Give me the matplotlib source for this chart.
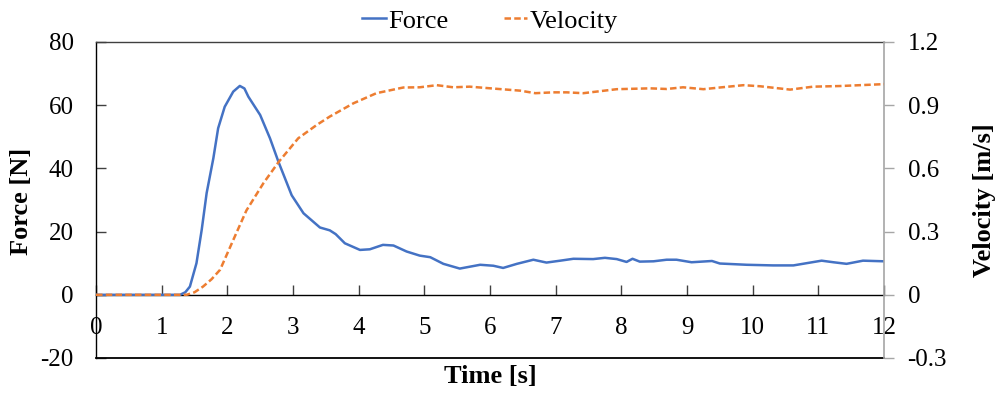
import matplotlib
matplotlib.use("Agg")
import matplotlib.pyplot as plt

plt.rcParams["font.family"] = ["Liberation Serif", "DejaVu Serif"]
plt.rcParams["axes.unicode_minus"] = False

# Measured force on the handle [N]
force_time = [0, 1.0, 1.28, 1.36, 1.43, 1.53, 1.61, 1.685, 1.787, 1.86, 1.96, 2.09,
              2.19, 2.26, 2.32, 2.50, 2.65, 2.78, 2.98, 3.16, 3.41, 3.56, 3.65,
              3.79, 4.02, 4.17, 4.37, 4.53, 4.73, 4.93, 5.09, 5.29, 5.54, 5.85,
              6.05, 6.20, 6.41, 6.66, 6.86, 7.07, 7.27, 7.57, 7.75, 7.93, 8.08,
              8.17, 8.28, 8.49, 8.69, 8.84, 9.07, 9.38, 9.50, 9.91, 10.31, 10.62,
              10.82, 11.05, 11.23, 11.43, 11.68, 12.0]
force = [0, 0, 0, 0.8, 2.6, 10.0, 20.6, 32.2, 43.2, 52.7, 59.5, 64.3,
         66.1, 65.3, 62.7, 56.9, 49.5, 42.0, 31.5, 25.8, 21.3, 20.4, 19.2,
         16.3, 14.2, 14.4, 15.8, 15.6, 13.7, 12.4, 11.9, 9.8, 8.3, 9.5,
         9.2, 8.5, 9.8, 11.1, 10.2, 10.8, 11.4, 11.3, 11.7, 11.3, 10.4,
         11.4, 10.5, 10.6, 11.1, 11.1, 10.3, 10.7, 9.9, 9.5, 9.3, 9.3,
         10.0, 10.8, 10.3, 9.8, 10.8, 10.6]

# Velocity of the moving part [m/s]
vel_time = [0, 1.0, 1.38, 1.50, 1.63, 1.76, 1.89, 2.09, 2.29, 2.45, 2.55, 2.78,
            3.08, 3.36, 3.56, 3.92, 4.27, 4.68, 4.93, 5.19, 5.44, 5.69, 6.05,
            6.46, 6.69, 6.96, 7.17, 7.42, 7.93, 8.44, 8.69, 8.94, 9.25, 9.50,
            9.86, 10.11, 10.57, 10.92, 11.33, 11.63, 12.0]
velocity = [0, 0, 0, 0.012, 0.039, 0.074, 0.119, 0.26, 0.40, 0.48, 0.53, 0.63,
            0.743, 0.806, 0.846, 0.909, 0.957, 0.984, 0.985, 0.995, 0.985, 0.988, 0.979,
            0.969, 0.957, 0.961, 0.961, 0.957, 0.976, 0.98, 0.977, 0.985, 0.976, 0.984,
            0.995, 0.99, 0.974, 0.988, 0.991, 0.995, 1.0]

x_ticks = list(range(0, 13))
force_ticks = [-20, 0, 20, 40, 60, 80]
vel_ticks = [-0.3, 0, 0.3, 0.6, 0.9, 1.2]
vel_tick_labels = ["-0.3", "0", "0.3", "0.6", "0.9", "1.2"]

BLUE = "#4472C4"
ORANGE = "#ED7D31"
TICK_FS = 18
LABEL_FS = 19

fig = plt.figure(figsize=(10.02, 3.94), dpi=100)
ax = fig.add_axes([96 / 1002, 1 - 358 / 394, (884 - 96) / 1002, (358 - 42) / 394])
ax2 = ax.twinx()

l1, = ax.plot(force_time, force, color=BLUE, lw=1.8, label="Force",
              solid_joinstyle="round", zorder=3)
l2, = ax2.plot(vel_time, velocity, color=ORANGE, lw=1.8, label="Velocity",
               linestyle=(0, (2.6, 1.3)), zorder=3)

ax.set_xlim(0, 12)
ax.set_ylim(-20, 80)
ax2.set_ylim(-0.3, 1.2)

# x axis crosses at zero force; frame line closes the box at the bottom
ax.spines["bottom"].set_position(("data", 0))
ax.spines["bottom"].set_color("black")
ax.spines["bottom"].set_linewidth(1.0)
ax.axhline(-20, color="black", lw=1.3, clip_on=False, zorder=5)
ax.spines["left"].set_color("black")
ax.spines["left"].set_linewidth(1.0)
ax.spines["top"].set_color("#404040")
ax.spines["top"].set_linewidth(1.0)
ax.spines["right"].set_visible(False)

for s in ("left", "top", "bottom"):
    ax2.spines[s].set_visible(False)
ax2.spines["right"].set_color("#A6A6A6")
ax2.spines["right"].set_linewidth(1.2)

ax.set_xticks(x_ticks)
ax.set_yticks(force_ticks)
ax.tick_params(axis="x", direction="in", length=7, width=1.0, color="#404040",
               pad=16, labelsize=TICK_FS)
ax.tick_params(axis="y", direction="in", length=7, width=1.0, color="#404040",
               pad=16, labelsize=TICK_FS)

ax2.set_yticks(vel_ticks)
ax2.set_yticklabels(vel_tick_labels)
ax2.tick_params(axis="y", direction="out", length=7, width=1.0, color="#A6A6A6",
                pad=10, labelsize=TICK_FS)

fig.text(22 / 1002, 1 - 201 / 394, "Force [N]", rotation=90, ha="center",
         va="center", fontsize=LABEL_FS, fontweight="bold")
fig.text(984 / 1002, 1 - 200 / 394, "Velocity [m/s]", rotation=90, ha="center",
         va="center", fontsize=LABEL_FS, fontweight="bold")
fig.text(490 / 1002, 1 - 377 / 394, "Time [s]", ha="center", va="center",
         fontsize=LABEL_FS, fontweight="bold")

fig.legend(handles=[l1, l2], loc="center", bbox_to_anchor=(490 / 1002, 1 - 21 / 394),
           ncol=2, frameon=False, fontsize=LABEL_FS, handlelength=0.9,
           handletextpad=0.08, columnspacing=2.1, borderpad=0)

fig.savefig("out.png", dpi=100)
